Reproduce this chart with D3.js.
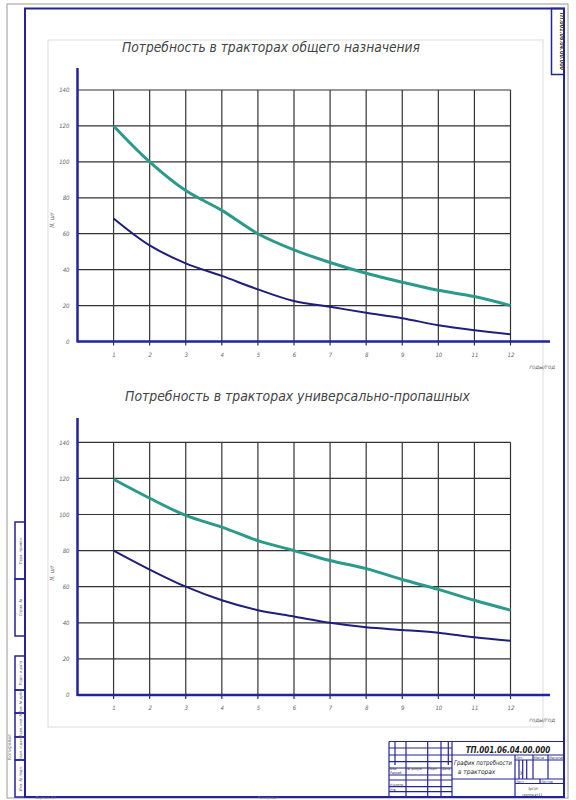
<!DOCTYPE html>
<html>
<head>
<meta charset="utf-8">
<script src="https://cdn.jsdelivr.net/npm/d3@7"></script>
<style>
body { margin: 0; background: #fff; }
</style>
</head>
<body>
<div id="sheet"></div>
<script>
// data
var years = [1, 2, 3, 4, 5, 6, 7, 8, 9, 10, 11, 12];
var yTicks = [0, 20, 40, 60, 80, 100, 120, 140];
var generalHigh = [120, 100, 84, 73, 60, 51, 44, 38, 33, 28.5, 25, 20];
var generalLow = [68.5, 53.5, 43.5, 36.5, 29, 22.5, 19.3, 16, 13, 9, 6.2, 4];
var rowcropHigh = [119.5, 109, 99.5, 93, 85.5, 80, 74.5, 70, 64, 58.5, 52.5, 47];
var rowcropLow = [80, 69.5, 60, 52.5, 47, 43.5, 40, 37.5, 36, 34.5, 32, 30];
var titles = ['Потребность в тракторах общего назначения', 'Потребность в тракторах универсально-пропашных'];
var xLabel = 'годы/год';
var yLabel = 'N, шт';

var W = 576, H = 800;
var navy = '#23239a';
var ink = '#333';
var font = '"DejaVu Sans Condensed", "Liberation Sans Narrow", sans-serif';

var svg = d3.select('#sheet').append('svg')
    .attr('width', W).attr('height', H)
    .style('display', 'block');

// sheet frames
svg.append('rect').attr('x', 7).attr('y', 4).attr('width', 561).attr('height', 794)
    .style('fill', 'none').style('stroke', '#999').style('stroke-width', 1);
svg.append('rect').attr('x', 48).attr('y', 40).attr('width', 495).attr('height', 687)
    .style('fill', 'none').style('stroke', '#ddd').style('stroke-width', 1);
svg.append('rect').attr('x', 25).attr('y', 8.5).attr('width', 539).attr('height', 788.5)
    .style('fill', 'none').style('stroke', navy).style('stroke-width', 2);

var drawChart = function(o) {
    var x = d3.scaleLinear().domain([0, 12]).range([77.5, 510.5]);
    var y = d3.scaleLinear().domain([0, 140]).range([o.base, o.top]);
    var g = svg.append('g');

    g.append('text')
        .attr('x', o.titleX).attr('y', o.titleY)
        .attr('textLength', o.titleW).attr('lengthAdjust', 'spacingAndGlyphs')
        .style('font', 'italic 14px ' + font)
        .style('fill', '#444')
        .text(o.title);

    // grid
    g.selectAll('.vgrid').data(years).enter().append('line')
        .attr('x1', function(d) { return x(d); }).attr('x2', function(d) { return x(d); })
        .attr('y1', y(140)).attr('y2', o.base + 4)
        .style('stroke', ink).style('stroke-width', 1.2);
    g.selectAll('.hgrid').data(yTicks.slice(1)).enter().append('line')
        .attr('x1', x(0)).attr('x2', x(12))
        .attr('y1', function(d) { return y(d); }).attr('y2', function(d) { return y(d); })
        .style('stroke', ink).style('stroke-width', 1.2);

    // tick labels
    var xa = g.append('g').attr('transform', 'translate(0,' + o.base + ')')
        .call(d3.axisBottom(x).tickValues(years).tickSize(0).tickPadding(11));
    var ya = g.append('g').attr('transform', 'translate(' + x(0) + ',0)')
        .call(d3.axisLeft(y).tickValues(yTicks).tickSize(0).tickPadding(8));
    [xa, ya].forEach(function(a) {
        a.select('.domain').remove();
        a.selectAll('text').style('font', 'italic 6px ' + font).style('fill', '#666');
    });

    // axes
    g.append('line').attr('x1', x(0)).attr('x2', 550).attr('y1', o.base).attr('y2', o.base)
        .style('stroke', navy).style('stroke-width', 2.5);
    g.append('line').attr('x1', x(0)).attr('x2', x(0)).attr('y1', o.axisTop).attr('y2', o.base + 1)
        .style('stroke', navy).style('stroke-width', 2.5);

    g.append('text')
        .attr('transform', 'translate(54,' + o.yLabelY + ') rotate(-90)')
        .style('text-anchor', 'middle')
        .style('font', 'italic 6px ' + font).style('fill', '#666')
        .text(yLabel);
    g.append('text')
        .attr('x', 555).attr('y', o.base + 27)
        .style('text-anchor', 'end')
        .style('font', 'italic 6px ' + font).style('fill', '#666')
        .text(xLabel);

    var line = d3.line()
        .x(function(d, i) { return x(years[i]); })
        .y(function(d) { return y(d); })
        .curve(d3.curveCatmullRom.alpha(0.5));
    g.append('path').datum(o.high).attr('d', line)
        .style('fill', 'none').style('stroke', '#2b9a8b').style('stroke-width', 3);
    g.append('path').datum(o.low).attr('d', line)
        .style('fill', 'none').style('stroke', '#1e1e7e').style('stroke-width', 2);
};

drawChart({top: 90, base: 341.5, axisTop: 68, title: titles[0], titleX: 122, titleY: 52, titleW: 298,
    yLabelY: 220, high: generalHigh, low: generalLow});
drawChart({top: 442.3, base: 695, axisTop: 418, title: titles[1], titleX: 125, titleY: 401, titleW: 345,
    yLabelY: 573, high: rowcropHigh, low: rowcropLow});

// top right stamp
svg.append('rect').attr('x', 551.5).attr('y', 8.5).attr('width', 12.5).attr('height', 66)
    .style('fill', 'none').style('stroke', navy).style('stroke-width', 1.5);
svg.append('text')
    .attr('transform', 'translate(560,41) rotate(90)')
    .attr('x', -29).attr('textLength', 58).attr('lengthAdjust', 'spacingAndGlyphs')
    .style('font', 'bold italic 6px ' + font).style('fill', '#333')
    .text('ТП.001.06.04.00.000');

// left side stamps
var sideCells = [[522, 579, 'Перв. примен.'], [579, 636, 'Справ. №'], [656, 690, 'Подп. и дата'],
    [690, 713, 'Инв. № дубл.'], [713, 737, 'Взам. инв. №'], [737, 760, 'Подп. и дата'], [760, 797, 'Инв. № подл.']];
svg.selectAll('.side').data(sideCells).enter().append('rect')
    .attr('x', 15).attr('y', function(d) { return d[0]; })
    .attr('width', 10).attr('height', function(d) { return d[1] - d[0]; })
    .style('fill', 'none').style('stroke', navy).style('stroke-width', 1.5);
svg.selectAll('.sidet').data(sideCells).enter().append('text')
    .attr('transform', function(d) { return 'translate(22,' + (d[0] + d[1]) / 2 + ') rotate(-90)'; })
    .style('text-anchor', 'middle')
    .style('font', 'italic 4px ' + font).style('fill', '#555')
    .text(function(d) { return d[2]; });
svg.append('text').attr('transform', 'translate(11,760) rotate(-90)')
    .style('font', 'italic 5px ' + font).style('fill', '#777').text('Копировал');

// title block
var tb = svg.append('g');
var tbLines = [
    [389, 741.5, 564, 741.5], [389, 741.5, 389, 797], [452, 741.5, 452, 797],
    [452, 755, 564, 755], [515, 755, 515, 797], [452, 779, 564, 779], [515, 760, 564, 760],
    [519, 760, 519, 779], [522.7, 760, 522.7, 779], [526.7, 760, 526.7, 779], [533, 755, 533, 779],
    [548, 755, 548, 779], [515, 783.5, 564, 783.5], [540, 779, 540, 783.5],
    [395, 741.5, 395, 765], [406, 741.5, 406, 797], [427.7, 741.5, 427.7, 797],
    [441, 741.5, 441, 797], [448.3, 741.5, 448.3, 765]
];
[748, 755, 761.7, 768, 775, 780, 786.7, 791.7].forEach(function(v) {
    tbLines.push([389, v, 452, v]);
});
tb.selectAll('line').data(tbLines).enter().append('line')
    .attr('x1', function(d) { return d[0]; }).attr('y1', function(d) { return d[1]; })
    .attr('x2', function(d) { return d[2]; }).attr('y2', function(d) { return d[3]; })
    .style('stroke', navy).style('stroke-width', 1.2);
tb.append('text').attr('x', 508).attr('y', 752.5).style('text-anchor', 'middle')
    .style('font', 'bold italic 8px ' + font).style('fill', '#222').text('ТП.001.06.04.00.000');
tb.append('text').attr('x', 454).attr('y', 765)
    .attr('textLength', 58).attr('lengthAdjust', 'spacingAndGlyphs')
    .style('font', 'italic 6.5px ' + font).style('fill', '#222')
    .text('График потребности');
tb.append('text').attr('x', 458).attr('y', 774).style('font', 'italic 6.5px ' + font).style('fill', '#222')
    .text('в тракторах');
var tbSmall = [[516, 759, 'Лит.'], [534, 759, 'Масса'], [549, 759, 'Масштаб'], [516, 782.5, 'Лист'],
    [541, 782.5, 'Листов'], [528, 790, 'ЗрГАУ'], [522, 795.5, 'группа 4т11'],
    [390, 770, 'Изм.'], [407, 770, '№ докум.'], [428, 770, 'Подп.'], [442, 770, 'Дата'],
    [390, 774, 'Разраб.'], [390, 786, 'Н.контр.'], [390, 791, 'Утв.']];
tb.selectAll('.small').data(tbSmall).enter().append('text')
    .attr('x', function(d) { return d[0]; }).attr('y', function(d) { return d[1]; })
    .style('font', 'italic 3.5px ' + font).style('fill', '#333')
    .text(function(d) { return d[2]; });
tb.append('text').attr('x', 520).attr('y', 775).style('font', 'italic 5px ' + font).style('fill', '#333').text('У');

svg.append('text').attr('x', 35).attr('y', 799).style('font', 'italic 4px ' + font).style('fill', '#777').text('Формат А3');
svg.append('text').attr('x', 258).attr('y', 799).style('font', 'italic 4px ' + font).style('fill', '#777').text('Копировал');
</script>
</body>
</html>
